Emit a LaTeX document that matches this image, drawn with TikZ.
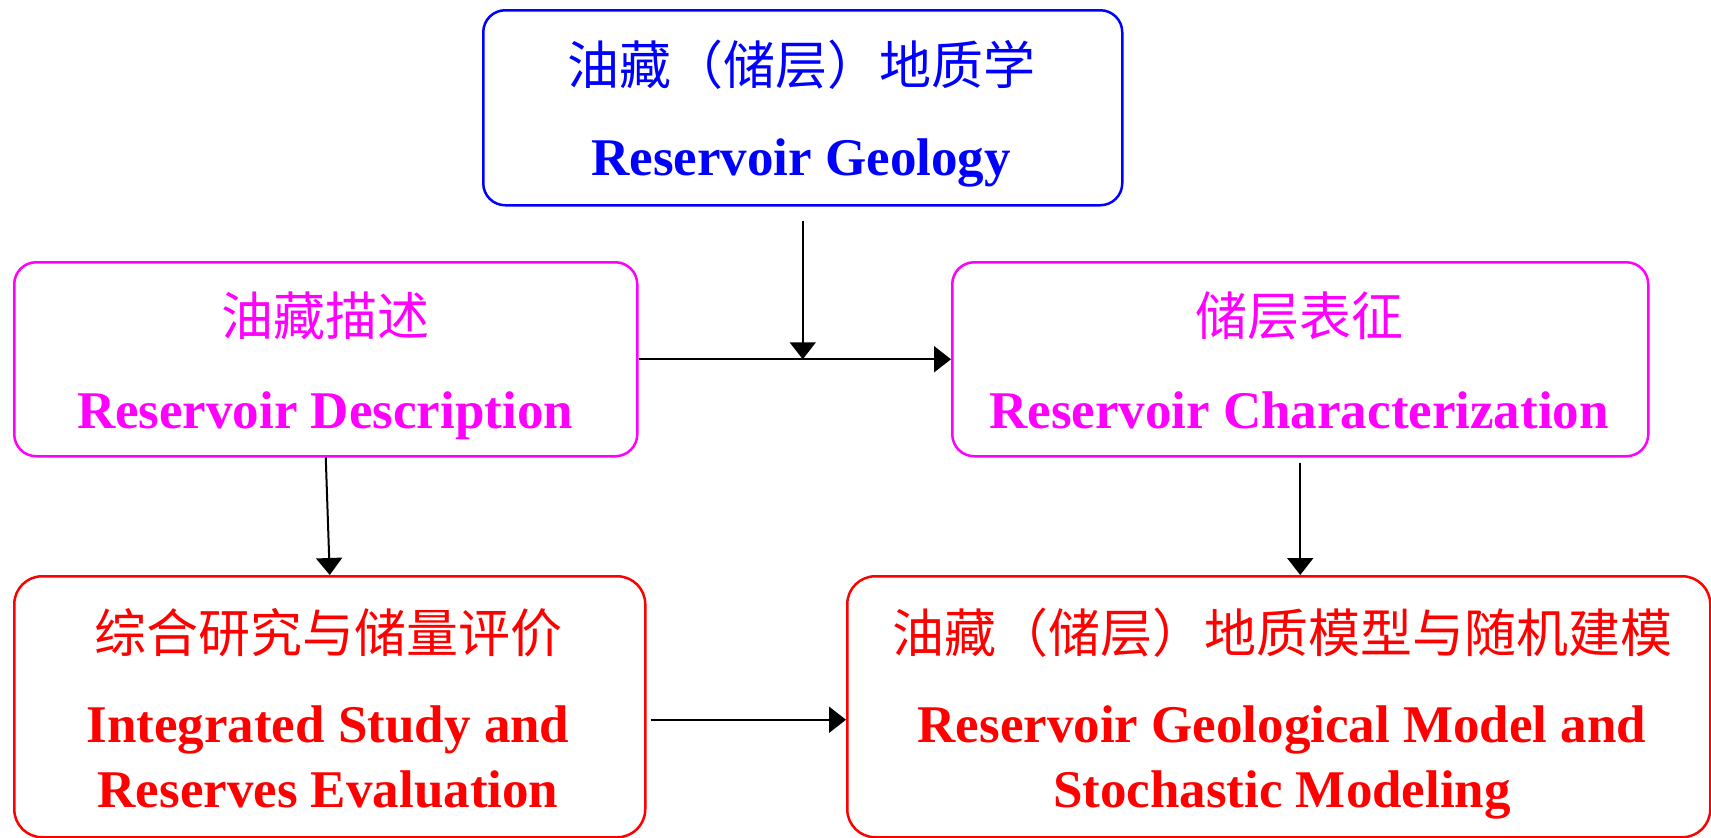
\documentclass[tikz,border=0pt]{standalone}
\usepackage{fontspec}
\setmainfont{Liberation Serif}
\newfontfamily\cjk{Noto Sans CJK SC}
\usetikzlibrary{arrows.meta}
\definecolor{geoblue}{RGB}{0,0,255}
\definecolor{geomag}{RGB}{255,0,255}
\definecolor{geored}{RGB}{255,0,0}
\begin{document}
\begin{tikzpicture}[x=1pt,y=-1pt,
  box/.style={draw, line width=2.5pt, rounded corners=22pt, inner sep=0pt, anchor=north west},
  bigbox/.style={box, rounded corners=28pt},
  zh/.style={font=\cjk\fontsize{52}{60}\selectfont, inner sep=0pt},
  en/.style={font=\bfseries\fontsize{53}{60}\selectfont, inner sep=0pt, anchor=base},
  arr/.style={line width=2pt, -{Triangle[length=17pt,width=26pt]}}]
\useasboundingbox (0,0) rectangle (1711,838);
% boxes
\node[box, draw=geoblue, minimum width=639pt, minimum height=195pt] (top) at (482,9) {};
\node[box, draw=geomag, minimum width=623pt, minimum height=194pt] (lm) at (13,261) {};
\node[box, draw=geomag, minimum width=696pt, minimum height=194pt] (rm) at (951,261) {};
\node[bigbox, draw=geored, minimum width=631pt, minimum height=261pt] (bl) at (13,575) {};
\node[bigbox, draw=geored, minimum width=863pt, minimum height=261pt] (br) at (846,575) {};
% texts
\node[zh, text=geoblue] (t1a) at (801,65) {油藏（储层）地质学};
\node[en, text=geoblue] (t1b) at (801,175) {Reservoir Geology};
\node[zh, text=geomag] (t2a) at (325,316) {油藏描述};
\node[en, text=geomag] (t2b) at (325,428) {Reservoir Description};
\node[zh, text=geomag] (t3a) at (1299,316) {储层表征};
\node[en, text=geomag] (t3b) at (1299,428) {Reservoir Characterization};
\node[zh, text=geored] (t4a) at (328,633) {综合研究与储量评价};
\node[en, text=geored] (t4b) at (328,742) {Integrated Study and};
\node[en, text=geored] (t4c) at (328,807) {Reserves Evaluation};
\node[zh, text=geored] (t5a) at (1282,633) {油藏（储层）地质模型与随机建模};
\node[en, text=geored] (t5b) at (1282,742) {Reservoir Geological Model and};
\node[en, text=geored] (t5c) at (1282,807) {Stochastic Modeling};
% connectors
\coordinate (j) at (top.south |- lm.east);
\draw[arr] ([yshift=-14pt]top.south) -- (j);
\draw[arr] (lm.east) -- (rm.west);
\draw[arr] (lm.south) -- (bl.north);
\draw[arr] ([yshift=-5pt]rm.south) -- (rm.south |- br.north);
\draw[arr] ([yshift=-13pt,xshift=4pt]bl.east) -- ([yshift=-13pt]br.west);
\end{tikzpicture}
\end{document}
